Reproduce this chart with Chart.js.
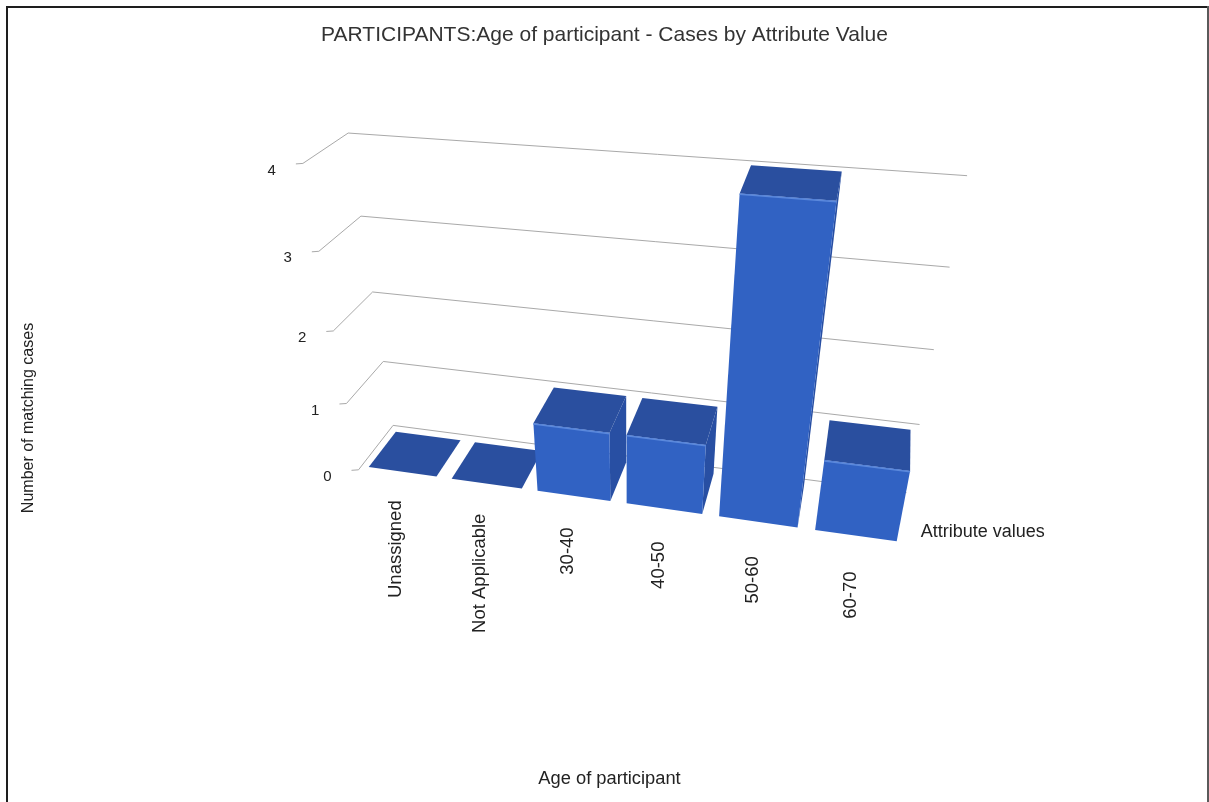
<!DOCTYPE html>
<html><head><meta charset="utf-8">
<script src="https://cdn.jsdelivr.net/npm/chart.js@4.4.1/dist/chart.umd.min.js"></script>
<style>html,body{margin:0;padding:0;background:#fff;}canvas{display:block}</style>
</head><body><canvas id="c" width="1209" height="802"></canvas>
<script>
// Age of participant: number of matching cases per attribute value
const categories = ['Unassigned', 'Not Applicable', '30-40', '40-50', '50-60', '60-70'];
const cases = [0, 0, 1, 1, 4, 1];
const valueTicks = [0, 1, 2, 3, 4];

const chartTitle = 'PARTICIPANTS:Age of participant - Cases by Attribute Value';
const yTitle = 'Number of matching cases';
const xTitle = 'Age of participant';
const depthTitle = 'Attribute values';

// 3-D view: 3x4 perspective projection of the plot box.
// Box coordinates: X across categories (0..1), Y up the value axis (0..1), Z into depth (0 front .. 1 back).
const VIEW = [
  451.3276, -107.4840,  60.4777, 358.5037,
   19.5433, -334.3902, -16.3990, 469.8193,
   -0.10587,  -0.17126,  0.06593,  1.0
];
function project(X, Y, Z) {
  const P = VIEW;
  const w = P[8] * X + P[9] * Y + P[10] * Z + P[11];
  return [(P[0] * X + P[1] * Y + P[2] * Z + P[3]) / w, (P[4] * X + P[5] * Y + P[6] * Z + P[7]) / w];
}
const BAR_FRONT = 0.08, BAR_BACK = 0.87;
const FONT = '"Liberation Sans", Arial, sans-serif';
const COLORS = { front: '#3162c3', top: '#2a4f9f', side: '#284fa3', edge: '#5a88dc', grid: '#a9a9a9', text: '#222' };

function poly(ctx, pts, fill) {
  ctx.fillStyle = fill;
  ctx.beginPath();
  pts.forEach((q, k) => k ? ctx.lineTo(q[0], q[1]) : ctx.moveTo(q[0], q[1]));
  ctx.closePath();
  ctx.fill();
}
// faces are wound counter-clockwise seen from outside; on screen (y down) that gives a negative area
function facing(pts) {
  let s = 0;
  for (let k = 0; k < pts.length; k++) {
    const a = pts[k], b = pts[(k + 1) % pts.length];
    s += a[0] * b[1] - b[0] * a[1];
  }
  return s < -0.5;
}

const box3d = {
  id: 'box3d',
  beforeDraw(chart) {
    const ctx = chart.ctx;
    ctx.save();
    ctx.fillStyle = '#fff';
    ctx.fillRect(0, 0, chart.width, chart.height);
    ctx.fillStyle = '#1e1e1e';
    ctx.fillRect(6, 6, chart.width - 6, 2);
    ctx.fillRect(6, 6, 2, chart.height - 6);
    ctx.fillStyle = '#5a5a5a';
    ctx.fillRect(chart.width - 2, 6, 2, chart.height - 6);
    ctx.restore();
  },
  afterDatasetsDraw(chart) {
    const ctx = chart.ctx, a = chart.chartArea, ys = chart.scales.y;
    const nx = x => (x - a.left) / (a.right - a.left);
    const ny = y => (a.bottom - y) / (a.bottom - a.top);
    ctx.save();

    // walls: gridlines on the left side wall and the back wall, with value labels
    ctx.strokeStyle = COLORS.grid;
    ctx.lineWidth = 1;
    ys.ticks.forEach(t => {
      const Y = ny(ys.getPixelForValue(t.value));
      const f = project(0, Y, 0), b = project(0, Y, 1), r = project(1, Y, 1);
      ctx.beginPath();
      ctx.moveTo(f[0] - 7, f[1] + 0.5);
      ctx.lineTo(f[0], f[1]);
      ctx.lineTo(b[0], b[1]);
      ctx.lineTo(r[0], r[1]);
      ctx.stroke();
      ctx.fillStyle = COLORS.text;
      ctx.font = '15px ' + FONT;
      ctx.textAlign = 'right';
      ctx.textBaseline = 'middle';
      ctx.fillText(t.label, f[0] - 27, f[1] + 7);
    });

    // columns
    const meta = chart.getDatasetMeta(0);
    meta.data.forEach((el, i) => {
      const x0 = nx(el.x - el.width / 2), x1 = nx(el.x + el.width / 2);
      const y0 = ny(el.base), y1 = ny(el.y);
      const z0 = BAR_FRONT, z1 = BAR_BACK;
      const faces = [
        { pts: [project(x0, y0, z1), project(x0, y0, z0), project(x0, y1, z0), project(x0, y1, z1)], col: COLORS.side },
        { pts: [project(x1, y0, z0), project(x1, y0, z1), project(x1, y1, z1), project(x1, y1, z0)], col: COLORS.side },
        { pts: [project(x0, y1, z0), project(x1, y1, z0), project(x1, y1, z1), project(x0, y1, z1)], col: COLORS.top },
        { pts: [project(x0, y0, z0), project(x1, y0, z0), project(x1, y1, z0), project(x0, y1, z0)], col: COLORS.front, front: true }
      ];
      faces.forEach(f => {
        if (!facing(f.pts)) return;
        poly(ctx, f.pts, f.col);
        if (f.front) {
          ctx.strokeStyle = COLORS.edge;
          ctx.lineWidth = 1.5;
          ctx.beginPath();
          ctx.moveTo(f.pts[3][0], f.pts[3][1] + 0.8);
          ctx.lineTo(f.pts[2][0], f.pts[2][1] + 0.8);
          ctx.stroke();
        }
      });

      // category label, rotated, hanging below the front edge of the floor
      const xc = (x0 + x1) / 2;
      const L = project(xc, 0, 0);
      ctx.save();
      ctx.fillStyle = COLORS.text;
      ctx.font = '18.5px ' + FONT;
      ctx.translate(L[0] - 4, L[1] + 24 + 8 * xc);
      ctx.rotate(-Math.PI / 2);
      ctx.textAlign = 'right';
      ctx.textBaseline = 'middle';
      ctx.fillText(chart.data.labels[i], 0, 0);
      ctx.restore();
    });

    // axis titles
    ctx.fillStyle = COLORS.text;
    ctx.textBaseline = 'middle';
    ctx.font = '18px ' + FONT;
    const fr = project(1, 0, 0);
    ctx.textAlign = 'left';
    ctx.fillText(depthTitle, fr[0] + 15, fr[1] - 15);
    ctx.textAlign = 'center';
    ctx.font = '18.3px ' + FONT;
    ctx.fillText(xTitle, 609.5, 779);
    ctx.save();
    ctx.translate(29, 418);
    ctx.rotate(-Math.PI / 2);
    ctx.font = '16px ' + FONT;
    ctx.fillText(yTitle, 0, 0);
    ctx.restore();

    ctx.restore();
  }
};

new Chart(document.getElementById('c'), {
  type: 'bar',
  data: {
    labels: categories,
    datasets: [{ data: cases, backgroundColor: 'rgba(0,0,0,0)', categoryPercentage: 1, barPercentage: 0.82 }]
  },
  options: {
    responsive: false,
    animation: false,
    layout: { padding: { left: 200, right: 200, top: 0, bottom: 200 } },
    scales: {
      x: { display: false },
      y: { display: false, min: valueTicks[0], max: valueTicks[valueTicks.length - 1], ticks: { stepSize: 1 } }
    },
    plugins: {
      legend: { display: false },
      tooltip: { enabled: false },
      title: {
        display: true, text: chartTitle, color: '#333',
        font: { family: FONT, size: 21, weight: 'normal' },
        padding: { top: 23, bottom: 10 }
      }
    }
  },
  plugins: [box3d]
});
</script></body></html>
